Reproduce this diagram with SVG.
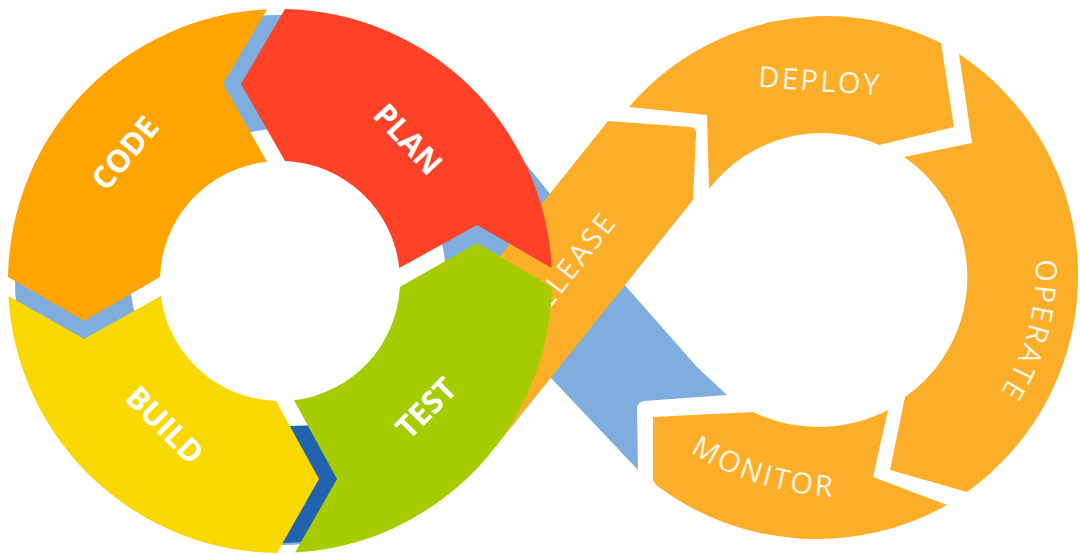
<svg xmlns="http://www.w3.org/2000/svg" width="1080" height="555" viewBox="0 0 1080 555">
<style>
  .lbl{font-family:"Open Sans","Liberation Sans",sans-serif;font-weight:700;font-size:31px;fill:#ffffff;text-anchor:middle}
  .rlbl{font-family:"Open Sans","Liberation Sans",sans-serif;font-weight:400;font-size:29px;fill:#fff5e4;letter-spacing:2.5px}
  .ora{fill:#fdae28}
  .lblue{fill:#7fadde}
</style>
<defs>
  <path id="p-operate" d="M 1035,250 A 230 230 0 0 1 994,402"/>
  <path id="p-monitor" d="M 672,440 A 300 300 0 0 0 856,497"/>
</defs>
<rect width="1080" height="555" fill="#ffffff"/>

<g id="connectors">
  <path class="lblue" fill-rule="evenodd" d="M 15,280 A 265 265 0 1 0 545,280 A 265 265 0 1 0 15,280 Z M 130,277 A 158 149 0 1 0 446,277 A 158 149 0 1 0 130,277 Z"/>
  <path fill="#2163af" d="M 390.7,518.5 A 262 262 0 0 1 169.3,518.5 L 230,426 L 340,426 Z"/>
  <path class="lblue" d="M 727,395 L 697,367 L 623,283 L 547,190 L 500,132 L 470,300 L 550,377 L 638,470 L 637,409 Q 637,402 644,401 Z"/>
</g>

<g id="release">
  <path class="ora" d="M 608,121 L 690,127 Q 697,128 696,135 L 693,200 L 494.6,448 L 420,356 Z"/>
  <text class="rlbl" text-anchor="middle" transform="translate(569,268) rotate(-52)" y="10">RELEASE</text>
</g>

<g id="deploy">
  <path class="ora" d="M 629,107 A 259 259 0 0 1 941,43 L 954,127 L 879,145 A 142 142 0 0 0 709,189 L 707,115 Z"/>
  <text class="rlbl" text-anchor="middle" x="820" y="91" transform="rotate(4 818 81)">DEPLOY</text>
</g>

<g id="operate">
  <path class="ora" d="M 959,54 A 266 266 0 0 1 967,492 L 890,470 L 905,397 A 146 146 0 0 0 904,157 L 972,143 Z"/>
  <text class="rlbl" text-anchor="middle"><textPath href="#p-operate" startOffset="50%">OPERATE</textPath></text>
</g>

<g id="monitor">
  <path class="ora" d="M 653,417 L 753,412 A 151 151 0 0 0 888,410 L 873,477 L 947,505 A 266 266 0 0 1 656,485 L 653,480 Z"/>
  <text class="rlbl" text-anchor="middle"><textPath href="#p-monitor" startOffset="50%">MONITOR</textPath></text>
</g>

<g id="plan">
  <path fill="#ff4128" d="M 285,9.05 A 272 272 0 0 1 551.7,268 L 477,225 L 399.3,268 A 120 120 0 0 0 285,161.1 L 241,84 Z"/>
  <text class="lbl" transform="translate(408,139) rotate(47)" y="11">PLAN</text>
</g>

<g id="code">
  <path fill="#ffa400" d="M 267,9.3 A 272 272 0 0 0 8,277 L 84,321 L 160,277 A 120 120 0 0 1 267,161.7 L 223,84 Z"/>
  <text class="lbl" transform="translate(125,153) rotate(-50)" y="11">CODE</text>
</g>

<g id="build">
  <path fill="#f9d800" d="M 8.4,296 A 272 272 0 0 0 277,553 L 319,479 L 276,400.9 A 120 120 0 0 1 160.9,296 L 84,339 Z"/>
  <text class="lbl" transform="translate(165,425) rotate(45)" y="11">BUILD</text>
</g>

<g id="test">
  <path fill="#a6cc00" d="M 295,552.6 A 272 272 0 0 0 551.9,287 L 477,243 L 399.85,287 A 120 120 0 0 1 294,400.2 L 337,479 Z"/>
  <text class="lbl" transform="translate(426,408) rotate(-45)" y="11">TEST</text>
</g>
</svg>
